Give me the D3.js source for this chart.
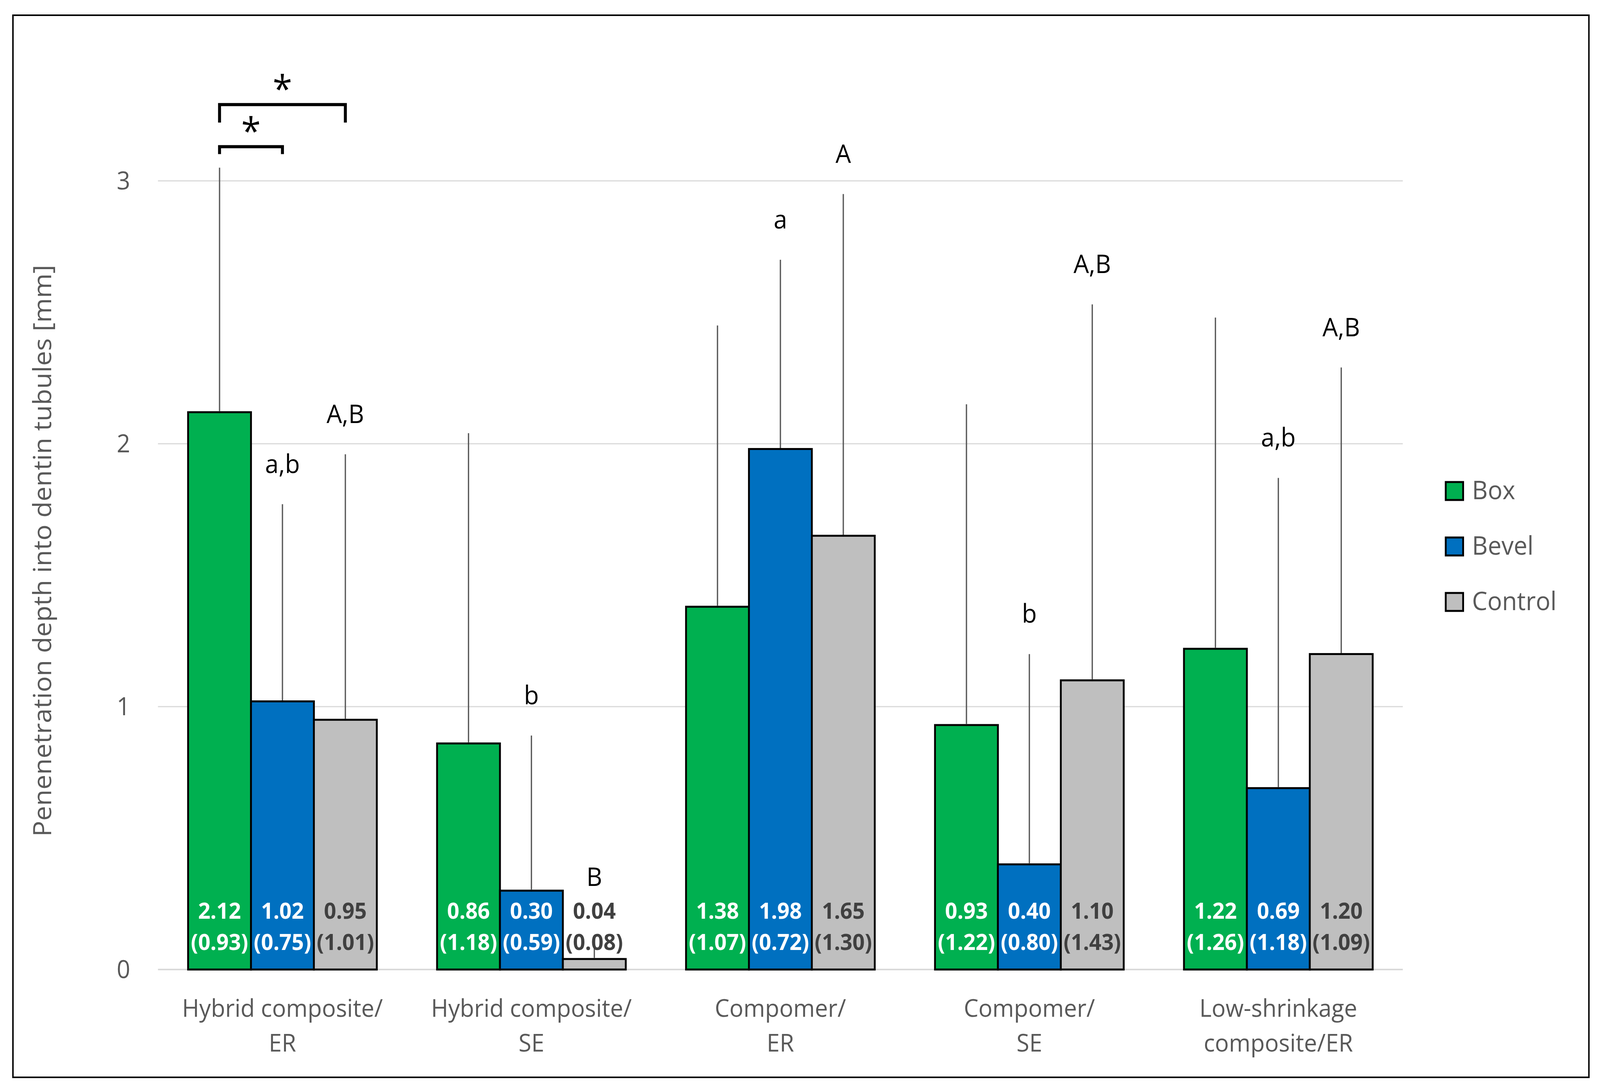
<!DOCTYPE html>
<html lang="en">
<head>
  <meta charset="UTF-8">
  <title>Penetration depth into dentin tubules</title>
  <script src="https://d3js.org/d3.v7.min.js"></script>
  <style>
    html, body { margin: 0; padding: 0; background: #fff; overflow: hidden; }
    svg { display: block; width: 100vw; height: 100vh; font-family: "Open Sans", "Noto Sans", sans-serif; }
    .grid line { stroke: #d9d9d9; stroke-width: 3px; }
    .tick-label, .cat-label, .legend-label, .y-title { fill: #595959; }
    .err { stroke: #595959; stroke-width: 3.5px; }
    .bar { stroke: #000; stroke-width: 5px; }
    .val { font-family: "Noto Sans", "Open Sans", sans-serif; font-weight: bold; font-size: 58px; text-anchor: middle; }
    .letter { font-size: 66px; text-anchor: middle; fill: #000; }
    .bracket { fill: none; stroke: #000; stroke-width: 8px; }
  </style>
</head>
<body>
  <svg viewBox="0 0 4325 2793" preserveAspectRatio="none"></svg>

  <script>
    // data
    const categories = [
      ["Hybrid composite/", "ER"],
      ["Hybrid composite/", "SE"],
      ["Compomer/", "ER"],
      ["Compomer/", "SE"],
      ["Low-shrinkage", "composite/ER"]
    ];
    const series = ["Box", "Bevel", "Control"];
    const colors = ["#00b050", "#0070c0", "#bfbfbf"];

    const boxMean = [2.12, 0.86, 1.38, 0.93, 1.22];
    const boxSD = [0.93, 1.18, 1.07, 1.22, 1.26];
    const bevelMean = [1.02, 0.30, 1.98, 0.40, 0.69];
    const bevelSD = [0.75, 0.59, 0.72, 0.80, 1.18];
    const controlMean = [0.95, 0.04, 1.65, 1.10, 1.20];
    const controlSD = [1.01, 0.08, 1.30, 1.43, 1.09];

    const boxLetters = ["", "", "", "", ""];
    const bevelLetters = ["a,b", "b", "a", "b", "a,b"];
    const controlLetters = ["A,B", "B", "A", "A,B", "A,B"];

    const yTicks = [0, 1, 2, 3];

    // significance brackets in group 0: [from series, to series, level in mm]
    const brackets = [
      { from: 0, to: 1, level: 3.13, tick: 19 },
      { from: 0, to: 2, level: 3.29, tick: 46 }
    ];

    const means = [boxMean, bevelMean, controlMean];
    const sds = [boxSD, bevelSD, controlSD];
    const letters = [boxLetters, bevelLetters, controlLetters];

    const svg = d3.select("svg");

    svg.append("rect")
      .attr("x", 35).attr("y", 39)
      .attr("width", 4260).attr("height", 2719)
      .attr("fill", "#fff").attr("stroke", "#000").attr("stroke-width", 4);

    const left = 427, right = 3792;
    const y = d3.scaleLinear().domain([0, 3.5]).range([2482, 126.5]);
    const x = d3.scaleBand().domain(d3.range(categories.length))
      .range([left, right]).paddingInner(0.242).paddingOuter(0.121);
    const xs = d3.scaleBand().domain(d3.range(series.length)).range([0, x.bandwidth()]);

    // gridlines
    svg.append("g").attr("class", "grid")
      .selectAll("line").data(yTicks).enter().append("line")
      .attr("x1", left).attr("x2", right)
      .attr("y1", d => y(d)).attr("y2", d => y(d))
      .style("stroke-width", d => d === 0 ? "4px" : "3px");

    svg.append("g").selectAll("text").data(yTicks).enter().append("text")
      .attr("class", "tick-label")
      .attr("x", 352).attr("y", d => y(d) + 22)
      .attr("text-anchor", "end")
      .attr("font-size", 64)
      .text(d => d);

    svg.append("text")
      .attr("class", "y-title")
      .attr("transform", "translate(138,1410) rotate(-90)")
      .attr("text-anchor", "middle")
      .attr("font-size", 68)
      .text("Penenetration depth into dentin tubules [mm]");

    // flatten bars
    const bars = [];
    categories.forEach((c, i) => {
      series.forEach((s, j) => {
        bars.push({ cat: i, ser: j, mean: means[j][i], sd: sds[j][i], letter: letters[j][i] });
      });
    });
    const bx = d => x(d.cat) + xs(d.ser);
    const cx = d => bx(d) + xs.bandwidth() / 2;

    svg.append("g").selectAll("rect").data(bars).enter().append("rect")
      .attr("class", "bar")
      .attr("x", bx)
      .attr("y", d => y(d.mean))
      .attr("width", xs.bandwidth())
      .attr("height", d => y(0) - y(d.mean))
      .attr("fill", d => colors[d.ser]);

    svg.append("g").selectAll("line").data(bars).enter().append("line")
      .attr("class", "err")
      .attr("x1", cx).attr("x2", cx)
      .attr("y1", d => y(d.mean) - 2.5)
      .attr("y2", d => y(d.mean + d.sd));

    const valG = svg.append("g").selectAll("text").data(bars).enter().append("text")
      .attr("class", "val")
      .attr("fill", d => d.ser === 2 ? "#404040" : "#fff");
    valG.append("tspan").attr("x", cx).attr("y", y(0) - 130).text(d => d.mean.toFixed(2));
    valG.append("tspan").attr("x", cx).attr("y", y(0) - 50).text(d => "(" + d.sd.toFixed(2) + ")");

    svg.append("g").selectAll("text").data(bars.filter(d => d.letter)).enter().append("text")
      .attr("class", "letter")
      .attr("x", cx)
      .attr("y", d => Math.min(y(d.mean + d.sd) - 80, y(0) - 214))
      .text(d => d.letter);

    // brackets
    const bg = svg.append("g");
    brackets.forEach(b => {
      const x1 = x(0) + xs(b.from) + xs.bandwidth() / 2;
      const x2 = x(0) + xs(b.to) + xs.bandwidth() / 2;
      const yy = y(b.level);
      bg.append("path").attr("class", "bracket")
        .attr("d", `M${x1},${yy + b.tick} V${yy} H${x2} V${yy + b.tick}`);
      bg.append("text")
        .attr("x", (x1 + x2) / 2).attr("y", yy - 6)
        .attr("text-anchor", "middle")
        .attr("font-size", 96)
        .attr("fill", "#000")
        .text("*");
    });

    // category labels
    const cl = svg.append("g").selectAll("text").data(categories).enter().append("text")
      .attr("class", "cat-label")
      .attr("text-anchor", "middle")
      .attr("font-size", 63);
    cl.append("tspan").attr("x", (d, i) => x(i) + x.bandwidth() / 2).attr("y", 2603).text(d => d[0]);
    cl.append("tspan").attr("x", (d, i) => x(i) + x.bandwidth() / 2).attr("y", 2692).text(d => d[1]);

    // legend
    const lg = svg.append("g").selectAll("g").data(series).enter().append("g")
      .attr("transform", (d, i) => `translate(3908,${1234 + i * 142})`);
    lg.append("rect")
      .attr("width", 47).attr("height", 46)
      .attr("fill", (d, i) => colors[i])
      .attr("stroke", "#000").attr("stroke-width", 5);
    lg.append("text")
      .attr("class", "legend-label")
      .attr("x", 71).attr("y", 44)
      .attr("font-size", 66)
      .text(d => d);
  </script>
</body>
</html>
